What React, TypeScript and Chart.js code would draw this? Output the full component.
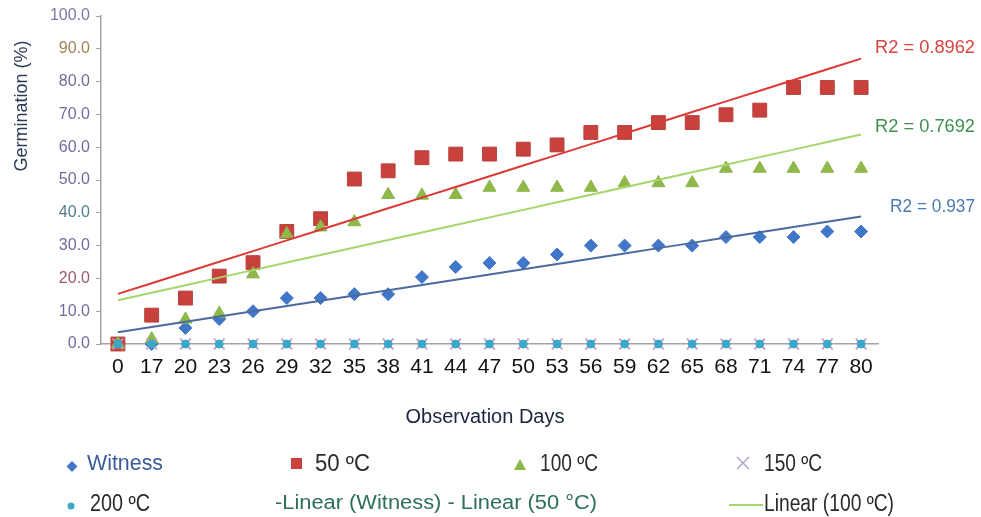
import React, { useEffect, useRef } from 'react';
import { Chart, registerables } from 'chart.js';

Chart.register(...registerables);

// ---- data ----
const days = ['0', '17', '20', '23', '26', '29', '32', '35', '38', '41', '44', '47', '50', '53', '56', '59', '62', '65', '68', '71', '74', '77', '80'];
const witness = [0, 0, 4.9, 7.6, 10.0, 14.0, 14.0, 15.2, 15.2, 20.4, 23.5, 24.7, 24.7, 27.3, 30.0, 30.0, 30.0, 30.0, 32.6, 32.6, 32.6, 34.3, 34.3];
const t50 = [0, 8.8, 14.0, 20.7, 24.8, 34.3, 38.2, 50.3, 52.8, 56.8, 57.9, 57.9, 59.4, 60.7, 64.5, 64.5, 67.5, 67.5, 69.9, 71.3, 78.2, 78.2, 78.2];
const t100 = [0, 1.5, 7.5, 9.3, 21.3, 33.5, 35.6, 37.2, 45.5, 45.3, 45.5, 47.7, 47.7, 47.7, 47.7, 49.1, 49.1, 49.1, 53.5, 53.5, 53.5, 53.5, 53.5];
const t150 = [0, 0, 0, 0, 0, 0, 0, 0, 0, 0, 0, 0, 0, 0, 0, 0, 0, 0, 0, 0, 0, 0, 0];
const t200 = [0, 0, 0, 0, 0, 0, 0, 0, 0, 0, 0, 0, 0, 0, 0, 0, 0, 0, 0, 0, 0, 0, 0];
const yTicks = [0, 10, 20, 30, 40, 50, 60, 70, 80, 90, 100];
const r2Labels = ['R2 = 0.8962', 'R2 = 0.7692', 'R2 = 0.937'];
const xTitle = 'Observation Days';
const yTitle = 'Germination (%)';
const legendRow1 = ['Witness', '50 ºC', '100 ºC', '150 ºC'];
const legendRow2 = ['200 ºC', '-Linear (Witness) - Linear (50 °C)', 'Linear (100 ºC)'];

// least-squares trendline on category index (as a spreadsheet does)
function trend(ys: number[]): number[] {
  const n = ys.length;
  const mx = (n - 1) / 2;
  const my = ys.reduce((a, b) => a + b, 0) / n;
  let sxy = 0;
  let sxx = 0;
  ys.forEach((y, i) => {
    sxy += (i - mx) * (y - my);
    sxx += (i - mx) * (i - mx);
  });
  const b = sxy / sxx;
  const a = my - b * mx;
  return ys.map((_, i) => a + b * i);
}

const yTickColor: Record<number, string> = {
  100: '#7a78a6',
  90: '#a08452',
  80: '#6f6d9f',
  70: '#6f6d9f',
  60: '#6f6d9f',
  50: '#6f6d9f',
  40: '#4f7e8c',
  30: '#6f6d9f',
  20: '#9c5a68',
  10: '#6f6d9f',
  0: '#6f6d9f',
};

const SANS = '"Liberation Sans", Arial, sans-serif';
const NARROW = '"Liberation Sans Narrow", "Liberation Sans", Arial, sans-serif';

function fitText(ctx: CanvasRenderingContext2D, text: string, x: number, y: number, font: string, color: string, width?: number, align: 'left' | 'right' = 'left') {
  ctx.save();
  ctx.font = font;
  ctx.fillStyle = color;
  ctx.textBaseline = 'middle';
  ctx.textAlign = 'left';
  const w = ctx.measureText(text).width;
  const sx = width ? width / w : 1;
  const left = align === 'right' ? x - w * sx : x;
  ctx.translate(left, y);
  ctx.scale(sx, 1);
  ctx.fillText(text, 0, 0);
  ctx.restore();
}

const overlay = {
  id: 'overlay',
  afterDraw(chart: any) {
    const ctx: CanvasRenderingContext2D = chart.ctx;
    // y title
    ctx.save();
    ctx.translate(22, 106);
    ctx.rotate(-Math.PI / 2);
    ctx.font = `18px ${SANS}`;
    ctx.fillStyle = '#2b3a55';
    ctx.textAlign = 'center';
    ctx.textBaseline = 'middle';
    ctx.fillText(yTitle, 0, 0);
    ctx.restore();
    // x title
    ctx.save();
    ctx.font = `20px ${SANS}`;
    ctx.fillStyle = '#1c2540';
    ctx.textAlign = 'center';
    ctx.textBaseline = 'middle';
    ctx.fillText(xTitle, 485, 417);
    ctx.restore();
    // R2 labels
    fitText(ctx, r2Labels[0], 975, 48, `18px ${SANS}`, '#d8443e', 100, 'right');
    fitText(ctx, r2Labels[1], 975, 127, `18px ${SANS}`, '#3f8f50', 100, 'right');
    fitText(ctx, r2Labels[2], 975, 207, `18px ${SANS}`, '#4a78b5', 85, 'right');

    // legend markers
    ctx.save();
    ctx.fillStyle = '#4077c8';
    ctx.beginPath();
    ctx.moveTo(72, 461);
    ctx.lineTo(77.5, 466.5);
    ctx.lineTo(72, 472);
    ctx.lineTo(66.5, 466.5);
    ctx.closePath();
    ctx.fill();
    ctx.fillStyle = '#c8413d';
    ctx.fillRect(291, 458, 11, 11);
    ctx.fillStyle = '#8fb84a';
    ctx.beginPath();
    ctx.moveTo(520, 459);
    ctx.lineTo(526, 470);
    ctx.lineTo(514, 470);
    ctx.closePath();
    ctx.fill();
    ctx.strokeStyle = '#b5a5c8';
    ctx.lineWidth = 1.5;
    ctx.beginPath();
    ctx.moveTo(737, 457);
    ctx.lineTo(749, 469);
    ctx.moveTo(749, 457);
    ctx.lineTo(737, 469);
    ctx.stroke();
    ctx.fillStyle = '#3aa8c8';
    ctx.beginPath();
    ctx.arc(71, 506, 3.5, 0, Math.PI * 2);
    ctx.fill();
    ctx.strokeStyle = '#a5d66a';
    ctx.lineWidth = 2;
    ctx.beginPath();
    ctx.moveTo(729, 505);
    ctx.lineTo(763, 505);
    ctx.stroke();
    ctx.restore();

    // legend texts
    fitText(ctx, legendRow1[0], 87, 464, `22px ${SANS}`, '#3b5b9b', 76);
    fitText(ctx, legendRow1[1], 315, 465, `23px ${NARROW}`, '#2a2a2a', 55);
    fitText(ctx, legendRow1[2], 540, 465, `23px ${NARROW}`, '#2a2a2a', 58);
    fitText(ctx, legendRow1[3], 764, 465, `23px ${NARROW}`, '#2a2a2a', 58);
    fitText(ctx, legendRow2[0], 90, 505, `23px ${NARROW}`, '#2a2a2a', 60);
    fitText(ctx, legendRow2[1], 275, 503, `20px ${SANS}`, '#2d6e5c', 322);
    fitText(ctx, legendRow2[2], 764, 505, `23px ${NARROW}`, '#2a2a2a', 130);
  },
};

export default function App() {
  const ref = useRef<HTMLCanvasElement>(null);

  useEffect(() => {
    document.body.style.margin = '0';
    let chart: Chart | null = null;
    let cancelled = false;
    const pt = (data: number[], label: string, style: string, color: string, radius: number, order: number, border?: string, bw = 1) => ({
      type: 'line' as const,
      label,
      data,
      showLine: false,
      clip: false,
      pointStyle: style,
      pointRadius: radius,
      pointBackgroundColor: color,
      pointBorderColor: border || color,
      pointBorderWidth: bw,
      backgroundColor: color,
      borderColor: border || color,
      order,
    });
    const tl = (data: number[], label: string, color: string) => ({
      type: 'line' as const,
      label,
      data: trend(data),
      borderColor: color,
      borderWidth: 2,
      pointRadius: 0,
      fill: false,
      order: 0,
    });
    const build = () => {
      if (cancelled || !ref.current) return;
      chart = new Chart(ref.current, {
        type: 'line',
        data: {
          labels: days,
          datasets: [
            pt(witness, 'Witness', 'rectRot', '#4077c8', 6.5, 5),
            pt(t50, '50 ºC', 'rect', '#c8413d', 9.8, 4, '#b8403c', 1),
            pt(t100, '100 ºC', 'triangle', '#8fb84a', 7.5, 3),
            pt(t150, '150 ºC', 'crossRot', '#c59ac4', 7.5, 2, '#c59ac4', 1.8),
            pt(t200, '200 ºC', 'circle', '#3aa8c8', 4, 1),
            tl(witness, 'Linear (Witness)', '#4b6b9e'),
            tl(t50, 'Linear (50 °C)', '#dc3a36'),
            tl(t100, 'Linear (100 ºC)', '#a5d66a'),
          ] as any,
        },
        options: {
          animation: false,
          responsive: true,
          maintainAspectRatio: false,
          layout: { padding: { top: 16, right: 103, left: 0, bottom: 0 } },
          plugins: {
            legend: { display: false },
            tooltip: { enabled: false },
          },
          scales: {
            x: {
              type: 'category',
              offset: true,
              grid: { display: true, drawOnChartArea: false, drawTicks: false },
              border: { display: true, color: '#a3a3a3', width: 1.5 },
              ticks: {
                padding: 11,
                color: '#111111',
                font: { family: NARROW, size: 21 },
                maxRotation: 0,
                autoSkip: false,
              },
              afterFit: (s: any) => {
                s.height = 173;
              },
            },
            y: {
              min: 0,
              max: 100,
              afterBuildTicks: (s: any) => {
                s.ticks = yTicks.map((v) => ({ value: v }));
              },
              grid: { display: true, drawOnChartArea: false, drawTicks: true, tickLength: 5, color: '#a3a3a3' },
              border: { display: true, color: '#a3a3a3', width: 1.5 },
              ticks: {
                padding: 6,
                font: { family: SANS, size: 16 },
                color: (c: any) => yTickColor[c.tick?.value] || '#6f6d9f',
                callback: (v: any) => Number(v).toFixed(1),
              },
              afterFit: (s: any) => {
                s.width = 101;
              },
            },
          },
        } as any,
        plugins: [overlay],
      });
    };
    const fonts: any = (document as any).fonts;
    if (fonts && fonts.load) {
      Promise.all([
        fonts.load('21px "Liberation Sans Narrow"'),
        fonts.load('16px "Liberation Sans"'),
      ]).then(build, build);
    } else {
      build();
    }
    return () => {
      cancelled = true;
      if (chart) chart.destroy();
    };
  }, []);

  return (
    <div style={{ width: 981, height: 517, position: 'relative', background: '#fff' }}>
      <canvas ref={ref} />
    </div>
  );
}
